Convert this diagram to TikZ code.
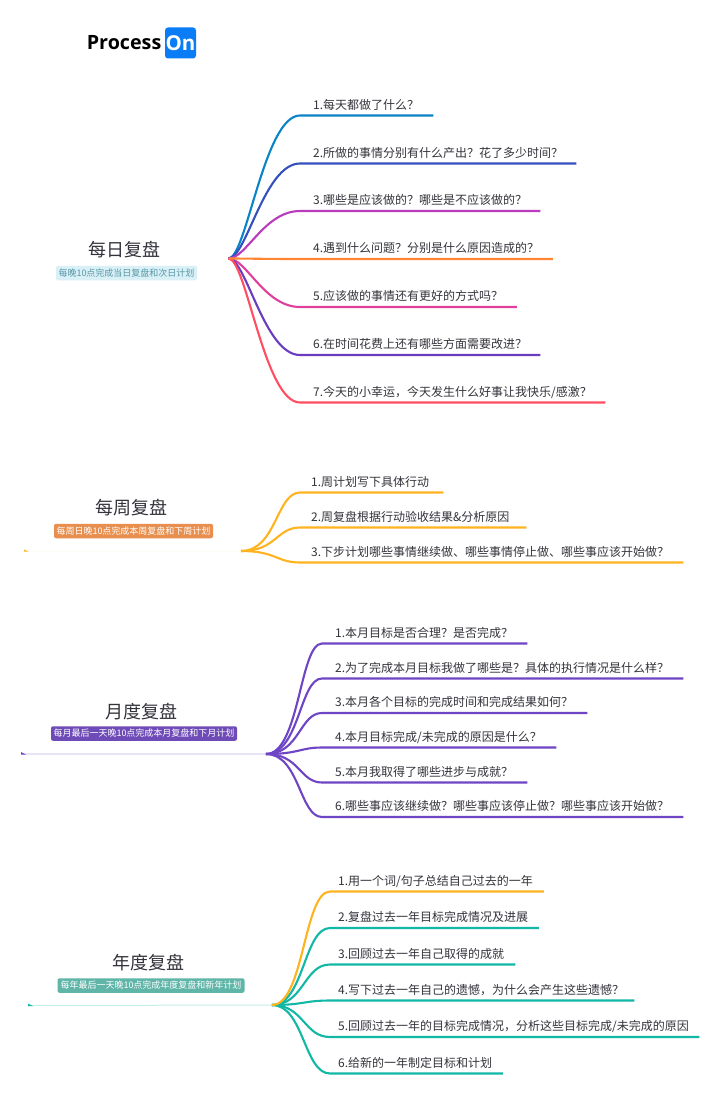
\documentclass[tikz,border=0pt]{standalone}
\usepackage{fontspec}
\setmainfont{Noto Sans CJK SC}
\newfontfamily\logofont{Open Sans}
\newcommand{\qm}{^^^^ff1f}
\newcommand{\cm}{^^^^ff0c}
\definecolor{ink}{HTML}{33333B}
\definecolor{cA}{HTML}{0A84C6}
\definecolor{cB}{HTML}{3450BE}
\definecolor{cC}{HTML}{B93CBE}
\definecolor{cD}{HTML}{FF8533}
\definecolor{cE}{HTML}{E0409C}
\definecolor{cF}{HTML}{6A3DBE}
\definecolor{cG}{HTML}{FF4D62}
\definecolor{wk}{HTML}{FFB31F}
\definecolor{mo}{HTML}{6E45C4}
\definecolor{yr}{HTML}{12B8A6}
\definecolor{logoblue}{HTML}{0A7CF5}
\tikzset{
  itemtext/.style={anchor=south west,inner sep=0pt,text=ink,font=\fontsize{12pt}{14pt}\selectfont,text height=10pt,text depth=6pt,align=left},
  conn/.style={line width=2.1pt,line join=round},
  titletext/.style={inner sep=0pt,text=ink,font=\fontsize{18pt}{22pt}\selectfont},
  badge/.style={rounded corners=2pt,inner sep=0pt,font=\fontsize{9pt}{11pt}\selectfont,minimum height=14.5pt},
}
\newcommand{\branch}[9]{% name, root, textx, y, xend, curve end x, root x, colour, text
  \pgfmathsetmacro\brw{#5-#3}
  \node[itemtext,text width=\brw pt] (#1) at (#3,#4) {#9};
  \pgfmathsetmacro\bra{(#6-#7)*\fracA}
  \pgfmathsetmacro\brc{#6-(#6-#7)*\fracB}
  \draw[conn,#8] (#2) .. controls ([xshift=\bra pt]#2) and (\brc,#4) .. (#6,#4) -- (#1.south east);
}
\begin{document}
\begin{tikzpicture}[x=1pt,y=-1pt]
\useasboundingbox (0,0) rectangle (720,1097);
\fill[white] (0,0) rectangle (720,1097);
% logo
\node[anchor=east,inner sep=0pt,font=\logofont\bfseries\fontsize{19.7pt}{24pt}\selectfont,text=black] (logotext) at (161.5,43) {Process};
\node[fill=logoblue,rounded corners=3pt,minimum width=31pt,minimum height=31pt,inner sep=0pt,text=white,font=\logofont\fontsize{20.5pt}{24pt}\selectfont\bfseries] (logobox) at (180.5,43) {On};
% daily
\def\fracA{0.25}\def\fracB{0.5}
\coordinate (d0) at (228.5,258.5);
\branch{d1}{d0}{313}{115.5}{433}{300}{228.5}{cA}{1.每天都做了什么\qm{}}
\branch{d2}{d0}{313}{163.5}{576}{300}{228.5}{cB}{2.所做的事情分别有什么产出\qm{}花了多少时间\qm{}}
\branch{d3}{d0}{313}{211}{540}{300}{228.5}{cC}{3.哪些是应该做的\qm{}哪些是不应该做的\qm{}}
\branch{d5}{d0}{313}{307}{516.5}{300}{228.5}{cE}{5.应该做的事情还有更好的方式吗\qm{}}
\branch{d6}{d0}{313}{355}{540}{300}{228.5}{cF}{6.在时间花费上还有哪些方面需要改进\qm{}}
\branch{d7}{d0}{313}{402.5}{605}{300}{228.5}{cG}{7.今天的小幸运\cm{}今天发生什么好事让我快乐/感激\qm{}}
\branch{d4}{d0}{313}{259}{552.5}{300}{228.5}{cD}{4.遇到什么问题\qm{}分别是什么原因造成的\qm{}}
\node[titletext] (dt) at (124,249.5) {每日复盘};
\node[badge,fill={rgb,255:red,217;green,240;blue,247},text={rgb,255:red,88;green,150;blue,165},minimum width=141pt] (db) at (126.5,273) {每晚10点完成当日复盘和次日计划};
% weekly
\def\fracA{0.6}\def\fracB{0.4}
\coordinate (w0) at (241,551);
\coordinate (wt) at (25,551);
\draw[line width=1pt,white!96!wk] (wt) -- (w0);
\fill[wk] (24,549.5) -- (28.5,551.5) -- (24,551.5) -- cycle;
\branch{w1}{w0}{311}{492.5}{443}{300}{241}{wk}{1.周计划写下具体行动}
\branch{w2}{w0}{311}{527.5}{526}{300}{241}{wk}{2.周复盘根据行动验收结果\&分析原因}
\branch{w3}{w0}{311}{562.5}{683}{300}{241}{wk}{3.下步计划哪些事情继续做、哪些事情停止做、哪些事应该开始做\qm{}}
\node[titletext] (wtt) at (131,507.5) {每周复盘};
\node[badge,fill={rgb,255:red,232;green,143;blue,79},text=white,minimum width=159pt] (wb) at (133.5,531) {每周日晚10点完成本周复盘和下周计划};
% monthly
\def\fracA{0.6}\def\fracB{0.4}
\coordinate (m0) at (266,754);
\coordinate (mt) at (22,754);
\draw[line width=1.5pt,white!85!mo] (mt) -- (m0);
\fill[mo] (21,752) -- (26,754.5) -- (21,754.5) -- cycle;
\branch{m1}{m0}{335}{643.5}{527}{322}{266}{mo}{1.本月目标是否合理\qm{}是否完成\qm{}}
\branch{m2}{m0}{335}{678.5}{683}{322}{266}{mo}{2.为了完成本月目标我做了哪些是\qm{}具体的执行情况是什么样\qm{}}
\branch{m3}{m0}{335}{713}{587}{322}{266}{mo}{3.本月各个目标的完成时间和完成结果如何\qm{}}
\branch{m4}{m0}{335}{747.5}{556}{322}{266}{mo}{4.本月目标完成/未完成的原因是什么\qm{}}
\branch{m5}{m0}{335}{782.5}{527}{322}{266}{mo}{5.本月我取得了哪些进步与成就\qm{}}
\branch{m6}{m0}{335}{817}{683}{322}{266}{mo}{6.哪些事应该继续做\qm{}哪些事应该停止做\qm{}哪些事应该开始做\qm{}}
\node[titletext] (mtt) at (141.5,711.5) {月度复盘};
\node[badge,fill={rgb,255:red,111;green,75;blue,184},text=white,minimum width=186pt] (mb) at (144,733.5) {每月最后一天晚10点完成本月复盘和下月计划};
% yearly
\def\fracA{0.55}\def\fracB{0.45}
\coordinate (y0) at (272,1005);
\coordinate (yt) at (29,1005.5);
\draw[line width=1pt,white!75!yr] (yt) -- (y0);
\fill[yr] (28,1003.5) -- (33,1006) -- (28,1006) -- cycle;
\branch{y2}{y0}{338}{928}{538.5}{330}{272}{yr}{2.复盘过去一年目标完成情况及进展}
\branch{y3}{y0}{338}{964.5}{515}{330}{272}{yr}{3.回顾过去一年自己取得的成就}
\branch{y4}{y0}{338}{1000.5}{634}{330}{272}{yr}{4.写下过去一年自己的遗憾\cm{}为什么会产生这些遗憾\qm{}}
\branch{y5}{y0}{338}{1037}{699}{330}{272}{yr}{5.回顾过去一年的目标完成情况\cm{}分析这些目标完成/未完成的原因}
\branch{y6}{y0}{338}{1073.5}{502.5}{330}{272}{yr}{6.给新的一年制定目标和计划}
\branch{y1}{y0}{338}{891.5}{543.5}{330}{272}{wk}{1.用一个词/句子总结自己过去的一年}
\node[titletext] (ytt) at (148,962.5) {年度复盘};
\node[badge,fill={rgb,255:red,95;green,181;blue,168},text=white,minimum width=187pt] (yb) at (151,985.5) {每年最后一天晚10点完成年度复盘和新年计划};
\end{tikzpicture}
\end{document}
